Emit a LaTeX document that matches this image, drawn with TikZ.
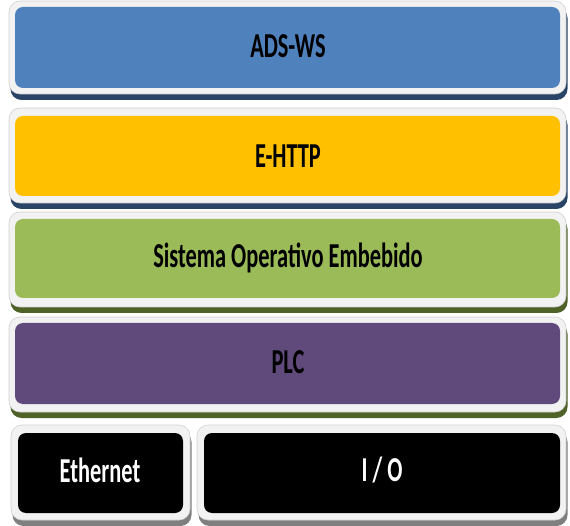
\documentclass[tikz,border=0pt]{standalone}
\usepackage{fontspec}
\setmainfont{Carlito}
\usepackage{graphicx}
\definecolor{layerblue}{HTML}{4F81BD}
\definecolor{layeryellow}{HTML}{FFC000}
\definecolor{layergreen}{HTML}{9BBB59}
\definecolor{layerpurple}{HTML}{604A7B}
\definecolor{framegray}{HTML}{F2F2F2}
\definecolor{shnavy}{HTML}{2A4468}
\definecolor{sholive}{HTML}{4F6228}
\definecolor{shgray}{HTML}{7F7F7F}
\tikzset{
  frame/.style={fill=framegray, draw=black!18, line width=0.6pt, rounded corners=11pt},
  shade/.style={rounded corners=11pt},
  inner/.style={rounded corners=8pt},
  lbl/.style={font=\bfseries\fontsize{35}{35}\selectfont, inner sep=0pt}
}
\newcommand{\narrow}[1]{\scalebox{0.64}[1]{#1}}
% one layer: #1 frame corner, #2 frame corner, #3 inner corner, #4 inner corner, #5 fill, #6 shadow colour
\newcommand{\stacklayer}[6]{%
  \fill[shade, #6] ($#1+(1.5,6)$) rectangle ($#2+(1.5,6)$);
  \draw[frame] #1 rectangle #2;
  \fill[inner, #5] #3 rectangle #4;
}
\usetikzlibrary{calc}
\begin{document}
\begin{tikzpicture}[x=1pt, y=-1pt]
\useasboundingbox (0,0) rectangle (570,526);
\fill[white] (0,0) rectangle (570,526);

\stacklayer{(9,1)}{(566,94)}{(15,7)}{(560,88)}{layerblue}{shnavy}
\stacklayer{(9,108)}{(566,203)}{(15,116)}{(560,196)}{layeryellow}{shnavy}
\stacklayer{(9,212)}{(566,307)}{(15,219)}{(560,298)}{layergreen}{sholive}
\stacklayer{(9,317)}{(566,412)}{(15,323)}{(560,404)}{layerpurple}{sholive}
\stacklayer{(11,425)}{(190,520)}{(18,433)}{(183,513)}{black}{shgray}
\stacklayer{(197,425)}{(566,520)}{(204,433)}{(560,513)}{black}{shgray}

\node[lbl] (ads) at (288,46) {\narrow{ADS-WS}};
\node[lbl] (http) at (288,156) {\narrow{E-HTTP}};
\node[lbl] (sos) at (288,258) {\narrow{Sistema Operativo Embebido}};
\node[lbl] (plc) at (288,362) {\narrow{PLC}};
\node[lbl, text=white] (eth) at (100,470) {\narrow{Ethernet}};
\node[lbl, text=white] (io) at (382,470) {\narrow{I / O}};
\end{tikzpicture}
\end{document}
